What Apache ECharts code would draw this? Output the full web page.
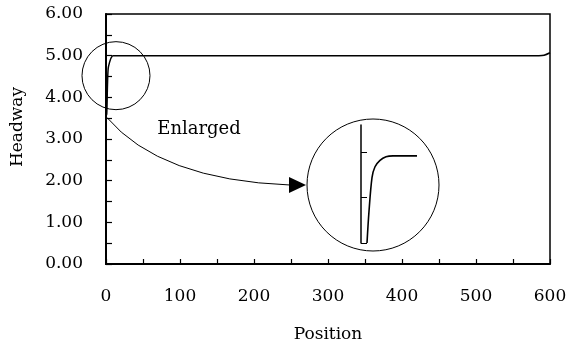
<!DOCTYPE html>
<html>
<head>
<meta charset="utf-8">
<script src="https://cdn.jsdelivr.net/npm/echarts@6/dist/echarts.min.js"></script>
<style>
html,body{margin:0;padding:0;background:#fff;}
#c{width:569px;height:345px;}
</style>
</head>
<body>
<div id="c"></div>
<script>
// Main series: Position vs Headway
var positions = [0, 1, 2, 3, 5, 7, 9.5, 585, 592, 600];
var headway   = [3.55, 3.6, 4.3, 4.7, 4.85, 4.95, 5.0, 5.0, 5.01, 5.07];
// Enlarged inset series
var insetX = [6, 8, 11, 14, 19, 25, 32, 56];
var insetY = [4.0, 4.35, 4.72, 4.84, 4.91, 4.95, 4.96, 4.96];
var insetTicks = [4.0, 4.5, 5.0];
// Axis ticks
var xTicks = [0, 100, 200, 300, 400, 500, 600];
var yTicks = [0, 1, 2, 3, 4, 5, 6];
// Annotation anchors (data units)
var zoomCenter = [13.5, 4.52];
var arrowStart = [1, 3.52];

var FONT = 'DejaVu Serif';
var chart = echarts.init(document.getElementById('c'), null, {renderer: 'canvas'});

var option = {
  animation: false,
  backgroundColor: '#fff',
  grid: [
    {left: 106, right: 19, top: 14, bottom: 81, show: true, borderColor: '#000', borderWidth: 1.5,
      containLabel: false, outerBoundsMode: 'none'},
    {left: 361, top: 125, width: 56, height: 118, show: false, containLabel: false, outerBoundsMode: 'none'}
  ],
  xAxis: [
    {
      gridIndex: 0, type: 'value', min: xTicks[0], max: xTicks[xTicks.length - 1], interval: 100,
      name: 'Position', nameLocation: 'middle', nameGap: 62,
      nameTextStyle: {fontFamily: FONT, fontSize: 17, color: '#000'},
      axisLine: {show: true, onZero: false, lineStyle: {color: '#000', width: 2}},
      axisTick: {show: true, inside: true, length: 5, lineStyle: {color: '#000', width: 1.2}},
      minorTick: {show: true, splitNumber: 2, length: 5, lineStyle: {color: '#000', width: 1.2}},
      axisLabel: {fontFamily: FONT, fontSize: 17, color: '#000', margin: 24, hideOverlap: false},
      splitLine: {show: false}
    },
    {
      gridIndex: 1, type: 'value', min: 0, max: 56, show: false
    }
  ],
  yAxis: [
    {
      gridIndex: 0, type: 'value', min: yTicks[0], max: yTicks[yTicks.length - 1], interval: 1,
      name: 'Headway', nameLocation: 'middle', nameGap: 80,
      nameTextStyle: {fontFamily: FONT, fontSize: 17, color: '#000', padding: [0, 0, 0, 24]},
      axisLine: {show: true, onZero: false, lineStyle: {color: '#000', width: 2}},
      axisTick: {show: true, inside: true, length: 6, lineStyle: {color: '#000', width: 1.2}},
      minorTick: {show: true, splitNumber: 2, length: 6, lineStyle: {color: '#000', width: 1.2}},
      axisLabel: {fontFamily: FONT, fontSize: 17, color: '#000', margin: 23,
        formatter: function (v) { return v.toFixed(2); }},
      splitLine: {show: false}
    },
    {
      gridIndex: 1, type: 'value', min: 4.0, max: 5.3,
      axisLine: {show: true, onZero: false, lineStyle: {color: '#000', width: 1.5}},
      axisTick: {show: true, inside: true, length: 6, customValues: insetTicks, lineStyle: {color: '#000', width: 1}},
      axisLabel: {show: false},
      splitLine: {show: false}
    }
  ],
  series: [
    {
      type: 'line', xAxisIndex: 0, yAxisIndex: 0, symbol: 'none', smooth: 0.3,
      lineStyle: {color: '#000', width: 1.5},
      data: positions.map(function (p, i) { return [p, headway[i]]; })
    },
    {
      type: 'line', xAxisIndex: 1, yAxisIndex: 1, symbol: 'none', smooth: 0.3,
      lineStyle: {color: '#000', width: 1.6},
      data: insetX.map(function (p, i) { return [p, insetY[i]]; })
    }
  ]
};
chart.setOption(option);

// Annotations: zoom circle, inset circle, arrow and label
var zc = chart.convertToPixel({gridIndex: 0}, zoomCenter);
var as = chart.convertToPixel({gridIndex: 0}, arrowStart);
var insetCenter = [373, 185];
var arrowEnd = [290, 185];
chart.setOption({
  graphic: [
    {type: 'circle', shape: {cx: zc[0], cy: zc[1], r: 34}, style: {fill: 'none', stroke: '#000', lineWidth: 1}, z: 100},
    {type: 'circle', shape: {cx: insetCenter[0], cy: insetCenter[1], r: 66}, style: {fill: 'none', stroke: '#000', lineWidth: 1}, z: 100},
    {type: 'bezierCurve', shape: {x1: as[0], y1: as[1], x2: arrowEnd[0], y2: arrowEnd[1], cpx1: 160, cpy1: 180},
      style: {fill: 'none', stroke: '#000', lineWidth: 1}, z: 100},
    {type: 'polygon', shape: {points: [[289, 177], [289, 193], [306, 185]]}, style: {fill: '#000'}, z: 100},
    {type: 'text', x: 199, y: 129, style: {text: 'Enlarged', font: '18px "DejaVu Serif"', fill: '#000', align: 'center', verticalAlign: 'middle'}, z: 100}
  ]
});
</script>
</body>
</html>
